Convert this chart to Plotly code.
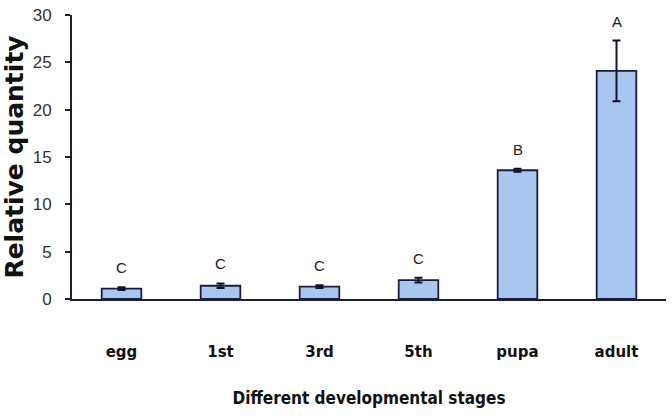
import plotly.graph_objects as go

stages = ["egg", "1st", "3rd", "5th", "pupa", "adult"]
values = [1.1, 1.4, 1.3, 2.0, 13.6, 24.1]
errors = [0.15, 0.25, 0.15, 0.25, 0.15, 3.2]
letters = ["C", "C", "C", "C", "B", "A"]
y_ticks = [0, 5, 10, 15, 20, 25, 30]

fig = go.Figure()
fig.add_trace(go.Bar(
    x=stages, y=values,
    marker=dict(color="#A8C6EE", line=dict(color="#1C1C40", width=1.8)),
    error_y=dict(type="data", array=errors, visible=True, color="#101030",
                 thickness=2, width=4),
    width=0.4,
))

for s, v, e, t in zip(stages, values, errors, letters):
    fig.add_annotation(x=s, y=v + e, text=t, showarrow=False, yanchor="bottom",
                       yshift=9, font=dict(family="Liberation Sans, Arial", size=15, color="#222"))

# x axis line extends slightly left of the y axis
fig.add_shape(type="line", xref="paper", yref="paper", x0=-6/594, x1=0, y0=0, y1=0,
              line=dict(color="#1C1C40", width=2))

fig.update_layout(
    width=672, height=417,
    margin=dict(l=72, r=6, t=15, b=118),
    plot_bgcolor="white", paper_bgcolor="white",
    showlegend=False,
    xaxis=dict(
        automargin=False,
        showline=True, linecolor="#1C1C40", linewidth=2,
        ticks="", ticklabelstandoff=38,
        tickfont=dict(family="DejaVu Sans", size=15, color="#111", weight="bold"),
        title=dict(text="Different developmental stages", standoff=32,
                   font=dict(family="DejaVu Sans Condensed, DejaVu Sans", size=17, color="#111", weight="bold")),
    ),
    yaxis=dict(
        automargin=False,
        range=[0, 30], tickvals=y_ticks,
        showline=True, linecolor="#1C1C40", linewidth=2,
        ticks="outside", ticklen=5, tickcolor="#1C1C40", tickwidth=2,
        ticklabelstandoff=10,
        showgrid=False, zeroline=False,
        tickfont=dict(family="Liberation Sans, Arial", size=17, color="#333"),
        title=dict(text="Relative quantity", standoff=3,
                   font=dict(family="DejaVu Sans", size=25, color="#111", weight="bold")),
    ),
)

fig.write_html("out.html", config={"displayModeBar": False},
               post_script="document.body.style.margin='0';")
